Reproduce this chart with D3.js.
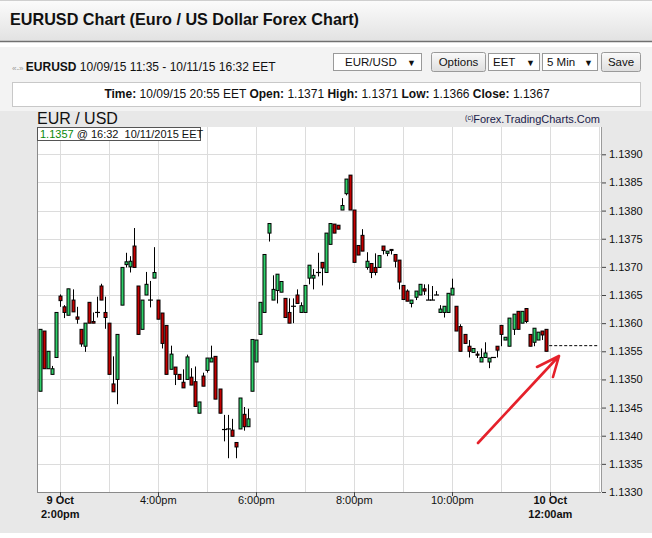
<!DOCTYPE html>
<html><head><meta charset="utf-8">
<script src="https://cdn.jsdelivr.net/npm/d3@7"></script>
<style>
body{margin:0;background:#fff;}
text{font-family:"Liberation Sans",Arial,sans-serif;}
</style>
</head><body>
<svg id="c" width="652" height="538"></svg>
<script>
// ---- data (5-minute candles, EUR/USD, 9 Oct 2015) ----
const firstCandle = new Date(2015, 9, 9, 13, 35);
const candleMinutes = 5;
const open  = [1.13479,1.13586,1.13519,1.13509,1.13539,1.13648,1.13629,1.13614,1.13641,1.13611,
1.13589,1.13559,1.13637,1.13603,1.13619,1.13666,1.13619,1.13600,1.13492,1.13500,
1.13632,1.13704,1.13700,1.13737,1.13666,1.13589,1.13650,1.13641,1.13680,1.13641,
1.13618,1.13596,1.13518,1.13522,1.13509,1.13495,1.13500,1.13504,1.13496,1.13440,
1.13506,1.13516,1.13531,1.13541,1.13483,1.13411,1.13412,1.13410,1.13388,1.13412,
1.13438,1.13416,1.13479,1.13531,1.13580,1.13619,1.13760,1.13641,1.13658,1.13655,
1.13644,1.13619,1.13630,1.13650,1.13619,1.13619,1.13680,1.13680,1.13690,1.13708,
1.13690,1.13740,1.13776,1.13774,1.13801,1.13830,1.13863,1.13801,1.13738,1.13756,
1.13699,1.13706,1.13699,1.13699,1.13737,1.13724,1.13731,1.13722,1.13712,1.13667,
1.13657,1.13635,1.13646,1.13650,1.13661,1.13641,1.13641,1.13650,1.13619,1.13619,
1.13619,1.13650,1.13630,1.13594,1.13580,1.13559,1.13548,1.13545,1.13531,1.13539,
1.13531,1.13539,1.13559,1.13596,1.13570,1.13559,1.13589,1.13621,1.13600,1.13626,
1.13580,1.13566,1.13570,1.13586,1.13589];
const high  = [1.13589,1.13586,1.13550,1.13524,1.13619,1.13651,1.13632,1.13661,1.13660,1.13629,
1.13589,1.13600,1.13637,1.13619,1.13647,1.13670,1.13647,1.13600,1.13541,1.13580,
1.13699,1.13725,1.13719,1.13769,1.13666,1.13641,1.13691,1.13675,1.13735,1.13641,
1.13618,1.13596,1.13560,1.13522,1.13509,1.13518,1.13544,1.13520,1.13523,1.13460,
1.13512,1.13538,1.13560,1.13541,1.13483,1.13437,1.13437,1.13430,1.13388,1.13467,
1.13451,1.13448,1.13571,1.13570,1.13637,1.13722,1.13777,1.13685,1.13687,1.13674,
1.13644,1.13644,1.13644,1.13660,1.13637,1.13667,1.13703,1.13696,1.13725,1.13708,
1.13760,1.13777,1.13776,1.13774,1.13822,1.13856,1.13863,1.13801,1.13738,1.13767,
1.13726,1.13706,1.13724,1.13720,1.13737,1.13728,1.13731,1.13722,1.13712,1.13667,
1.13660,1.13641,1.13657,1.13669,1.13669,1.13669,1.13666,1.13657,1.13632,1.13630,
1.13653,1.13679,1.13630,1.13598,1.13580,1.13570,1.13555,1.13550,1.13555,1.13566,
1.13538,1.13539,1.13559,1.13596,1.13575,1.13609,1.13616,1.13621,1.13621,1.13626,
1.13580,1.13591,1.13584,1.13586,1.13589];
const low   = [1.13479,1.13519,1.13519,1.13509,1.13539,1.13629,1.13609,1.13614,1.13620,1.13599,
1.13558,1.13549,1.13600,1.13600,1.13610,1.13641,1.13590,1.13509,1.13478,1.13456,
1.13632,1.13699,1.13690,1.13699,1.13580,1.13589,1.13650,1.13628,1.13680,1.13607,
1.13555,1.13509,1.13518,1.13490,1.13500,1.13485,1.13500,1.13490,1.13452,1.13440,
1.13488,1.13512,1.13531,1.13465,1.13440,1.13390,1.13360,1.13399,1.13360,1.13412,
1.13409,1.13416,1.13479,1.13531,1.13580,1.13619,1.13745,1.13641,1.13635,1.13655,
1.13610,1.13600,1.13600,1.13635,1.13619,1.13619,1.13669,1.13660,1.13683,1.13667,
1.13690,1.13740,1.13760,1.13767,1.13801,1.13827,1.13801,1.13708,1.13721,1.13728,
1.13695,1.13680,1.13685,1.13699,1.13722,1.13719,1.13722,1.13699,1.13660,1.13641,
1.13639,1.13628,1.13641,1.13650,1.13650,1.13641,1.13641,1.13650,1.13619,1.13610,
1.13619,1.13650,1.13586,1.13550,1.13564,1.13539,1.13548,1.13538,1.13531,1.13538,
1.13520,1.13539,1.13539,1.13559,1.13570,1.13559,1.13579,1.13589,1.13600,1.13600,
1.13559,1.13559,1.13570,1.13570,1.13550];
const close = [1.13589,1.13519,1.13550,1.13519,1.13619,1.13640,1.13619,1.13661,1.13620,1.13607,
1.13563,1.13600,1.13600,1.13600,1.13619,1.13641,1.13610,1.13509,1.13478,1.13580,
1.13699,1.13709,1.13710,1.13699,1.13580,1.13641,1.13669,1.13641,1.13690,1.13607,
1.13564,1.13509,1.13545,1.13509,1.13500,1.13485,1.13540,1.13490,1.13452,1.13460,
1.13488,1.13538,1.13538,1.13465,1.13440,1.13411,1.13412,1.13399,1.13380,1.13467,
1.13416,1.13430,1.13571,1.13570,1.13637,1.13722,1.13777,1.13660,1.13687,1.13674,
1.13610,1.13600,1.13630,1.13635,1.13631,1.13667,1.13703,1.13685,1.13690,1.13698,
1.13760,1.13777,1.13760,1.13767,1.13809,1.13856,1.13801,1.13708,1.13721,1.13728,
1.13710,1.13690,1.13690,1.13720,1.13729,1.13728,1.13729,1.13710,1.13673,1.13642,
1.13639,1.13641,1.13657,1.13669,1.13657,1.13641,1.13641,1.13650,1.13625,1.13630,
1.13653,1.13662,1.13586,1.13550,1.13564,1.13550,1.13555,1.13543,1.13539,1.13547,
1.13538,1.13539,1.13552,1.13580,1.13575,1.13609,1.13616,1.13589,1.13621,1.13603,
1.13559,1.13591,1.13584,1.13579,1.13550];
const yTicks = [1.1330,1.1335,1.1340,1.1345,1.1350,1.1355,1.1360,1.1365,1.1370,1.1375,1.1380,1.1385,1.1390];
const xTickTimes = [new Date(2015,9,9,14),new Date(2015,9,9,16),new Date(2015,9,9,18),new Date(2015,9,9,20),new Date(2015,9,9,22),new Date(2015,9,10,0)];
const xTickLabels = [["9 Oct","2:00pm"],["4:00pm"],["6:00pm"],["8:00pm"],["10:00pm"],["10 Oct","12:00am"]];
const xTickBold = [true,false,false,false,false,true];
const lastClose = 1.1356;
const quotePrice = "1.1357";
const quoteRest = " @ 16:32  10/11/2015 EET";
const infoParts = [["Time:",true],[" 10/09/15 20:55 EET ",false],["Open:",true],[" 1.1371 ",false],["High:",true],[" 1.1371 ",false],["Low:",true],[" 1.1366 ",false],["Close:",true],[" 1.1367",false]];

const candles = open.map((o,i)=>({t:new Date(firstCandle.getTime()+i*candleMinutes*60000),o,h:high[i],l:low[i],c:close[i]}));

const svg = d3.select("#c");
const W=652,H=538;
const P={l:37,r:601,t:127,b:492};

// ---- page chrome ----
const defs=svg.append("defs");
const g1=defs.append("linearGradient").attr("id","hdr").attr("x1",0).attr("y1",0).attr("x2",0).attr("y2",1);
g1.append("stop").attr("offset","0").attr("stop-color","#fbfbfb");
g1.append("stop").attr("offset","1").attr("stop-color","#e2e2e2");
const g2=defs.append("linearGradient").attr("id","btn").attr("x1",0).attr("y1",0).attr("x2",0).attr("y2",1);
g2.append("stop").attr("offset","0").attr("stop-color","#fafafa");
g2.append("stop").attr("offset","1").attr("stop-color","#dedede");

svg.append("rect").attr("x",0).attr("y",0).attr("width",W).attr("height",H).attr("fill","#fff");
svg.append("rect").attr("x",0).attr("y",1).attr("width",W).attr("height",40).attr("fill","url(#hdr)");
svg.append("line").attr("x1",0).attr("x2",W).attr("y1",0.5).attr("y2",0.5).attr("stroke","#cfcfcf");
svg.append("line").attr("x1",0).attr("x2",W).attr("y1",41.5).attr("y2",41.5).attr("stroke","#707070").attr("stroke-width",1.5);
svg.append("text").attr("x",10).attr("y",25).attr("font-size",16.2).attr("font-weight","bold").attr("fill","#111")
  .text("EURUSD Chart (Euro / US Dollar Forex Chart)");

svg.append("rect").attr("x",0).attr("y",47).attr("width",W).attr("height",65).attr("fill","#f3f3f3");

// symbol/time line
const st=svg.append("text").attr("x",12).attr("y",71).attr("font-size",12).attr("fill","#111");
st.append("tspan").attr("font-size",8).attr("fill","#999").text("«-» ");
st.append("tspan").attr("font-weight","bold").text("EURUSD");
st.append("tspan").text(" 10/09/15 11:35 - 10/11/15 16:32 EET");

function selectBox(x,w,label,arrowX){
  svg.append("rect").attr("x",x+0.5).attr("y",53.5).attr("width",w).attr("height",17).attr("fill","#fff").attr("stroke","#9a9a9a");
  svg.append("text").attr("x",x+ (label==="EUR/USD"?12:5)).attr("y",66).attr("font-size",11.5).attr("fill","#111").text(label);
  svg.append("text").attr("x",x+arrowX).attr("y",66).attr("font-size",9).attr("fill","#111").text("▼");
}
function button(x,w,label){
  svg.append("rect").attr("x",x+0.5).attr("y",52.5).attr("width",w).attr("height",19).attr("rx",2).attr("fill","url(#btn)").attr("stroke","#9a9a9a");
  svg.append("text").attr("x",x+w/2+0.5).attr("y",66).attr("text-anchor","middle").attr("font-size",11.5).attr("fill","#111").text(label);
}
selectBox(333,88,"EUR/USD",74);
button(431,54,"Options");
selectBox(488,51,"EET",38);
selectBox(542,55,"5 Min",42);
button(601,39,"Save");

// info box
svg.append("rect").attr("x",12.5).attr("y",82.5).attr("width",628).attr("height",24).attr("fill","#fff").attr("stroke","#c8c8c8");
const it=svg.append("text").attr("x",327).attr("y",98).attr("text-anchor","middle").attr("font-size",12).attr("fill","#111");
infoParts.forEach(p=>it.append("tspan").attr("font-weight",p[1]?"bold":"normal").attr("xml:space","preserve").text(p[0]));

// chart background
svg.append("rect").attr("x",0).attr("y",111).attr("width",W).attr("height",422).attr("fill","#e8e8e8");
svg.append("text").attr("x",37).attr("y",124).attr("font-size",16).attr("fill","#111").text("EUR / USD");
const cp=svg.append("text").attr("x",600).attr("y",123).attr("text-anchor","end").attr("font-size",11).attr("fill","#1a1a4a");
cp.append("tspan").attr("font-size",7).attr("dy",-3).text("(c)");
cp.append("tspan").attr("dy",3).text("Forex.TradingCharts.Com");

// ---- scales ----
const x = d3.scaleTime().domain([new Date(2015,9,9,13,31,30), new Date(2015,9,10,1,2,5)]).range([P.l,P.r]);
const y = d3.scaleLinear().domain([1.1330,1.1390]).range([P.b,154.3]);

svg.append("rect").attr("x",P.l).attr("y",P.t).attr("width",P.r-P.l).attr("height",P.b-P.t).attr("fill","#fff");

// grid
const grid=svg.append("g");
grid.selectAll("line.h").data(yTicks.slice(1)).join("line")
  .attr("x1",P.l).attr("x2",P.r).attr("y1",d=>Math.round(y(d))+0.5).attr("y2",d=>Math.round(y(d))+0.5)
  .attr("stroke","#dcdcdc").attr("stroke-width",1);
grid.selectAll("line.v").data(d3.timeHour.range(x.domain()[0],x.domain()[1])).join("line")
  .attr("y1",P.t).attr("y2",P.b).attr("x1",d=>Math.round(x(d))+0.5).attr("x2",d=>Math.round(x(d))+0.5)
  .attr("stroke","#dcdcdc").attr("stroke-width",1);

// frame
svg.append("line").attr("x1",P.l+0.5).attr("x2",P.l+0.5).attr("y1",P.t).attr("y2",P.b).attr("stroke","#8a8a8a");
svg.append("line").attr("x1",P.l).attr("x2",P.r).attr("y1",P.b+0.5).attr("y2",P.b+0.5).attr("stroke","#8a8a8a");
svg.append("line").attr("x1",P.r+0.5).attr("x2",P.r+0.5).attr("y1",P.t).attr("y2",P.b).attr("stroke","#9a9a9a");

// y axis (right)
const ya=svg.append("g").attr("transform",`translate(${P.r+1},0)`)
  .call(d3.axisRight(y).tickValues(yTicks).tickFormat(d3.format(".4f")).tickSize(4).tickPadding(3));
ya.select(".domain").remove();
ya.selectAll("line").attr("stroke","#444");
ya.selectAll("text").attr("font-size",11).attr("fill","#111").attr("font-family","Liberation Sans, Arial, sans-serif");

// x axis ticks
const xa=svg.append("g");
xa.selectAll("line").data(xTickTimes).join("line")
  .attr("x1",d=>Math.round(x(d))+0.5).attr("x2",d=>Math.round(x(d))+0.5).attr("y1",P.b).attr("y2",P.b+4).attr("stroke","#444");
xTickTimes.forEach((t,i)=>{
  const tx=xa.append("text").attr("x",x(t)).attr("y",504).attr("text-anchor","middle").attr("font-size",11)
    .attr("font-weight",xTickBold[i]?"bold":"normal").attr("fill","#111");
  xTickLabels[i].forEach((s,j)=>tx.append("tspan").attr("x",x(t)).attr("dy",j?14:0).text(s));
});

// candles
const cg=svg.append("g");
const GREEN="#2fd06a", RED="#c40000";
candles.forEach(d=>{
  const cx=Math.round(x(d.t))+0.5;
  cg.append("line").attr("x1",cx).attr("x2",cx).attr("y1",y(d.h)).attr("y2",y(d.l)).attr("stroke","#000").attr("stroke-width",1);
  if(Math.abs(d.o-d.c)<1e-6){
    cg.append("line").attr("x1",cx-2.5).attr("x2",cx+2.5).attr("y1",y(d.o)).attr("y2",y(d.o)).attr("stroke","#000").attr("stroke-width",1.2);
  } else {
    const top=y(Math.max(d.o,d.c)), bot=y(Math.min(d.o,d.c));
    cg.append("rect").attr("x",cx-1.5).attr("y",top).attr("width",3).attr("height",Math.max(1,bot-top))
      .attr("fill",d.c>d.o?GREEN:RED).attr("stroke","#000").attr("stroke-width",1);
  }
});

// last-price dashed line
const lastX = x(candles[candles.length-1].t);
svg.append("line").attr("x1",lastX+3).attr("x2",P.r-2).attr("y1",y(lastClose)).attr("y2",y(lastClose))
  .attr("stroke","#000").attr("stroke-dasharray","3,2");

// quote legend box
svg.append("rect").attr("x",P.l+0.5).attr("y",P.t+0.5).attr("width",163).attr("height",13).attr("fill","#fff").attr("stroke","#555");
const q=svg.append("text").attr("x",P.l+3).attr("y",P.t+11).attr("font-size",11).attr("fill","#111");
q.append("tspan").attr("fill","#0a8a0a").text(quotePrice);
q.append("tspan").attr("xml:space","preserve").text(quoteRest);

// hand-drawn red arrow
svg.append("path").attr("d","M478,443 L559,356 M559,356 L537,367 M559,356 L553,377")
  .attr("fill","none").attr("stroke","#e5212b").attr("stroke-width",2.6).attr("stroke-linecap","round").attr("stroke-linejoin","round");
</script>
</body></html>
